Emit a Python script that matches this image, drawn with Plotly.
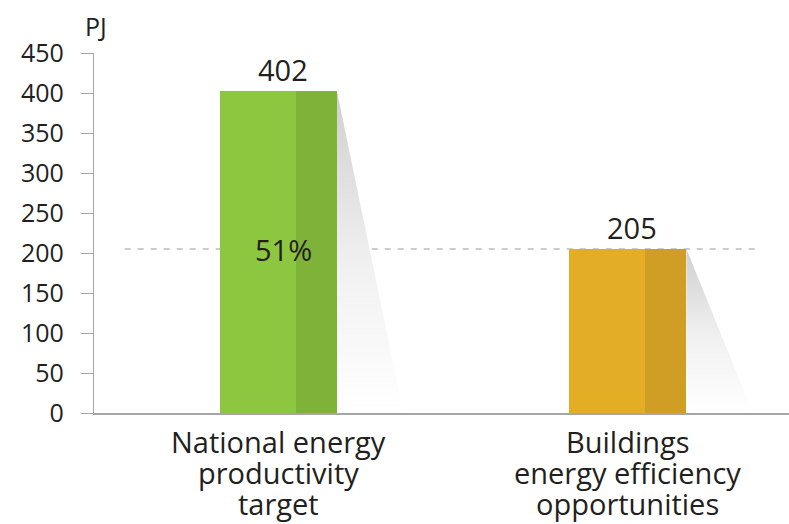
import plotly.graph_objects as go

categories = ["National energy<br>productivity<br>target", "Buildings<br>energy efficiency<br>opportunities"]
values = [402, 205]
light_colors = ["#8DC63F", "#E3AE26"]
dark_colors = ["#7FB239", "#D09E24"]
y_ticks = [0, 50, 100, 150, 200, 250, 300, 350, 400, 450]
unit_label = "PJ"
share_label = "51%"

xpos = list(range(len(categories)))
bar_w = 0.335
dark_frac = 0.35
shadow_reach = 0.19
label_dx = 0.013

FONT = "Open Sans"
TXT = "#231F20"

fig = go.Figure()

# shadows
for i, v in enumerate(values):
    xr = xpos[i] + bar_w / 2
    fig.add_trace(go.Scatter(
        x=[xr, xr + shadow_reach, xr, xr], y=[v, 0, 0, v],
        mode="lines", line=dict(width=0), fill="toself",
        fillgradient=dict(type="vertical",
                          colorscale=[[0, "#ffffff"], [0.45, "#f1f1f1"], [1, "#cfcfcf"]]),
        hoverinfo="skip", showlegend=False))

# light part of bars
fig.add_trace(go.Bar(
    x=xpos, y=values, width=[bar_w * (1 - dark_frac)] * len(values),
    offset=[-bar_w / 2] * len(values), marker=dict(color=light_colors, line=dict(width=0)),
    showlegend=False, hoverinfo="skip"))
# dark part of bars
fig.add_trace(go.Bar(
    x=xpos, y=values, width=[bar_w * dark_frac] * len(values),
    offset=[bar_w / 2 - bar_w * dark_frac] * len(values),
    marker=dict(color=dark_colors, line=dict(width=0)),
    showlegend=False, hoverinfo="skip"))

# dashed reference line at the second value
fig.add_shape(type="line", xref="x", yref="y", x0=-0.44, x1=1.378,
              y0=values[1], y1=values[1], layer="below",
              line=dict(color="#9a9a9a", width=1.2, dash="6px,7px"))

# value labels
for i, v in enumerate(values):
    fig.add_annotation(x=xpos[i] + label_dx, y=v, text=str(v), showarrow=False,
                       yanchor="bottom", yshift=0,
                       font=dict(family=FONT, size=29, color=TXT))

fig.add_annotation(x=xpos[0] + label_dx, y=values[1], text=share_label, showarrow=False,
                   yanchor="middle", font=dict(family=FONT, size=29, color=TXT))

fig.add_annotation(xref="paper", yref="paper", x=0.003, y=1.076, text=unit_label,
                   showarrow=False, xanchor="center", yanchor="middle",
                   font=dict(family=FONT, size=25, color=TXT))

# category labels (tight line spacing)
line_shifts = [-28, -59, -90]
for i, cat in enumerate(categories):
    for j, line in enumerate(cat.split("<br>")):
        fig.add_annotation(x=xpos[i], y=0, text=line, showarrow=False,
                           xanchor="center", yanchor="middle", yshift=line_shifts[j],
                           font=dict(family=FONT, size=29, color=TXT))

fig.update_layout(
    width=789, height=524, margin=dict(l=94, r=0, t=53, b=111),
    paper_bgcolor="white", plot_bgcolor="white", barmode="overlay", bargap=0,
    xaxis=dict(range=[-0.528, 1.461], tickvals=xpos, ticktext=[""] * len(xpos),
               showgrid=False, zeroline=False, showline=True, linecolor="#a6a6a6",
               linewidth=1.5, ticks=""),
    yaxis=dict(range=[0, 450], tickvals=y_ticks, showgrid=False, zeroline=False,
               showline=True, linecolor="#a6a6a6", linewidth=1.2, ticks="outside",
               ticklen=12, tickcolor="#a6a6a6", tickwidth=1.2, ticklabelstandoff=12,
               tickfont=dict(family=FONT, size=25, color=TXT)),
)

fig.write_html("out.html")
